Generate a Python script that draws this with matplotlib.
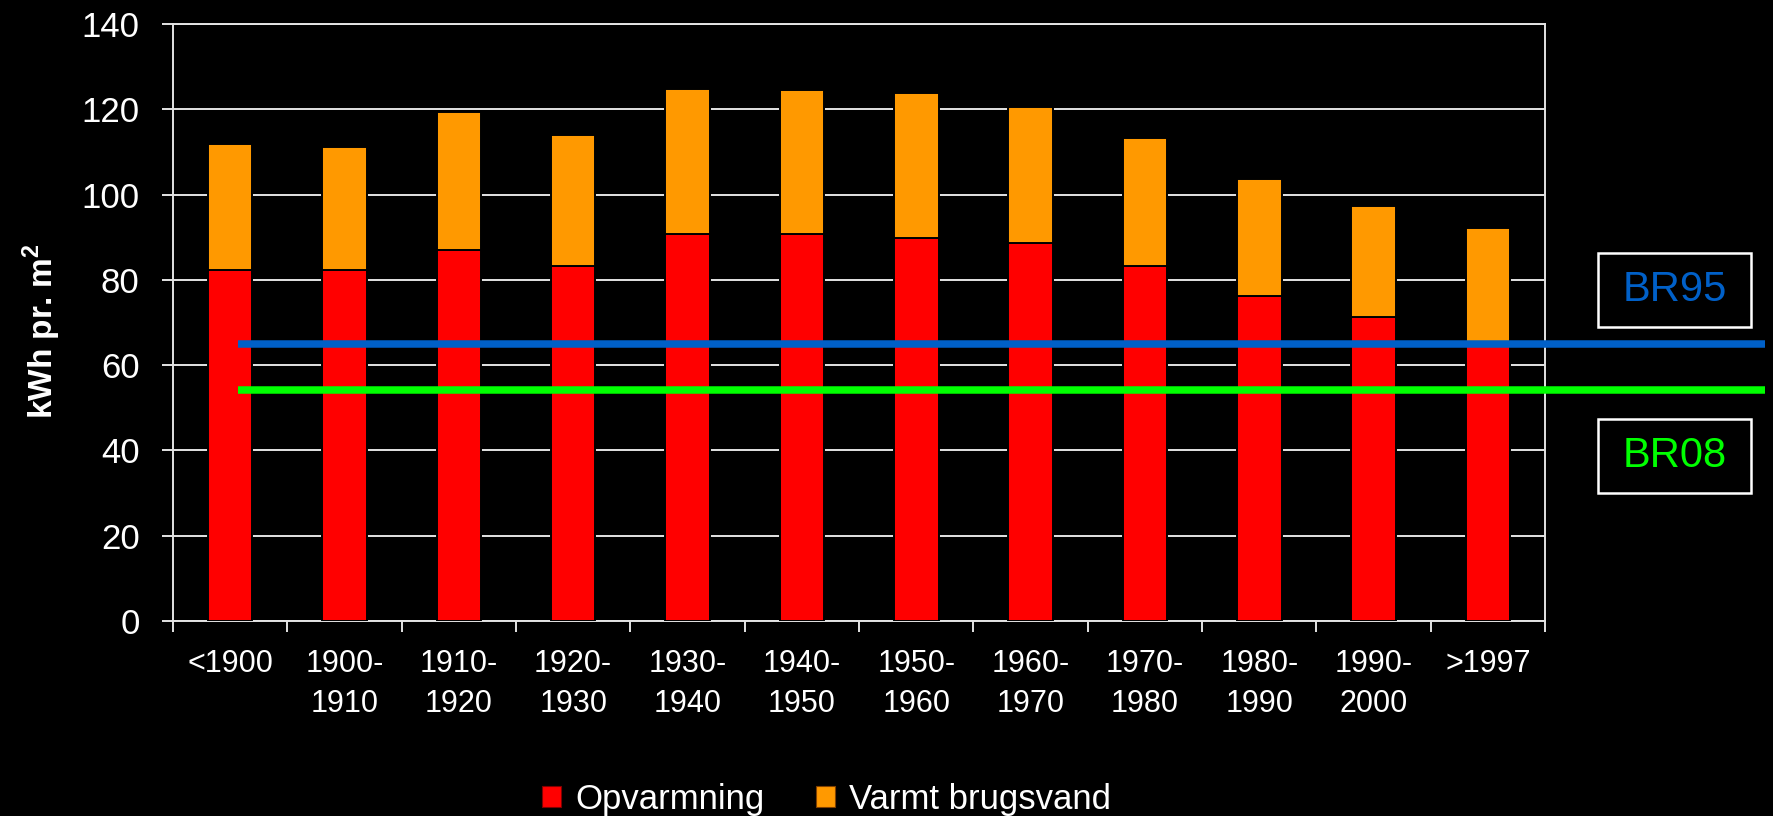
"""
Energiforbrug pr. m2 fordelt på byggeperiode
Opvarmning + varmt brugsvand, med BR95 / BR08 krav
"""

import matplotlib
matplotlib.use("Agg")
import matplotlib.pyplot as plt
import numpy as np
from matplotlib.patches import Patch, Rectangle


# DATA
# ──────────────────────────────────────────────────────────────
PERIODER = ["<1900", "1900-\n1910", "1910-\n1920", "1920-\n1930", "1930-\n1940",
            "1940-\n1950", "1950-\n1960", "1960-\n1970", "1970-\n1980",
            "1980-\n1990", "1990-\n2000", ">1997"]
OPVARMNING = [82.2, 82.2, 86.9, 83.3, 90.8, 90.8, 89.7, 88.7, 83.3, 76.1, 71.4, 65.0]
BRUGSVAND = [29.7, 29.0, 32.4, 30.7, 33.9, 33.7, 34.2, 31.8, 30.0, 27.6, 25.8, 27.1]
Y_TICKS = [0, 20, 40, 60, 80, 100, 120, 140]

KRAV_NAVNE = ["BR95", "BR08"]
KRAV_VAERDI = [65.0, 54.2]

# STIL
# ──────────────────────────────────────────────────────────────
FONT = "Liberation Sans"
RED = "#FF0000"
ORANGE = "#FF9900"
KRAV_FARVER = ["#0060C8", "#00FF00"]
GRID = "#e4e4e4"

plt.rcParams["font.family"] = [FONT, "DejaVu Sans"]
plt.rcParams["mathtext.fontset"] = "custom"
plt.rcParams["mathtext.rm"] = FONT
plt.rcParams["mathtext.bf"] = FONT + ":bold"

fig = plt.figure(figsize=(17.74, 8.16), dpi=100, facecolor="black")
ax = fig.add_axes([0.0975, 0.239, 0.7735, 0.7316], facecolor="black")

x = np.arange(len(PERIODER))
bund = np.array(OPVARMNING)

ax.bar(x, OPVARMNING, width=0.39, color=RED, edgecolor="black", lw=1.4, zorder=3)
ax.bar(x, BRUGSVAND, bottom=bund, width=0.39, color=ORANGE,
       edgecolor="black", lw=1.4, zorder=3)

ax.set_xlim(-0.5, len(PERIODER) - 0.5)
ax.set_ylim(0, 140)
ax.set_yticks(Y_TICKS)
ax.yaxis.grid(True, color=GRID, lw=1.4, zorder=0)
ax.set_axisbelow(True)

# ── akser ─────────────────────────────────────────────────────
for s in ax.spines.values():
    s.set_color(GRID)
    s.set_linewidth(1.4)

ax.set_xticks(np.arange(-0.5, len(PERIODER)), minor=False)
ax.set_xticklabels([])
ax.set_xticks(x, minor=True)
ax.set_xticklabels(PERIODER, minor=True, fontsize=22, color="white",
                   linespacing=1.45, va="top")
ax.tick_params(axis="x", which="major", length=8, width=1.4, color=GRID, direction="out")
ax.tick_params(axis="x", which="minor", length=0, pad=20)
ax.tick_params(axis="y", length=8, width=1.4, color=GRID, labelsize=25,
               labelcolor="white", pad=16)

ax.set_ylabel(r"kWh pr. m$^{\mathbf{2}}$", fontsize=24, fontweight="bold", color="white")
ax.yaxis.set_label_coords(-0.08, 0.485)

# ── BR-krav linjer og bokse ───────────────────────────────────
trans = ax.get_yaxis_transform()
boks_y = [0.599, 0.3955]
for navn, v, farve, by in zip(KRAV_NAVNE, KRAV_VAERDI, KRAV_FARVER, boks_y):
    ax.plot([0.0474, 1.160], [v, v], transform=trans, color=farve,
            lw=5.4, solid_capstyle="butt", clip_on=False, zorder=5)
    fig.patches.append(Rectangle((0.9008, by), 0.0862, 0.091, transform=fig.transFigure,
                                 fill=False, edgecolor="white", lw=1.8))
    fig.text(0.9439, by + 0.0455, navn, color=farve, fontsize=30,
             ha="center", va="center")

# ── legend ────────────────────────────────────────────────────
handles = [Patch(facecolor=RED, edgecolor="#800000", lw=0.8),
           Patch(facecolor=ORANGE, edgecolor="#804000", lw=0.8)]
leg = fig.legend(handles, ["Opvarmning", "Varmt brugsvand"], loc="center",
                 bbox_to_anchor=(0.466, 0.02), ncol=2, frameon=False,
                 fontsize=25, handlelength=0.55, handleheight=0.55,
                 handletextpad=0.4, columnspacing=1.5)
for t in leg.get_texts():
    t.set_color("white")

plt.savefig("out.png", dpi=100, facecolor="black")
plt.close()
